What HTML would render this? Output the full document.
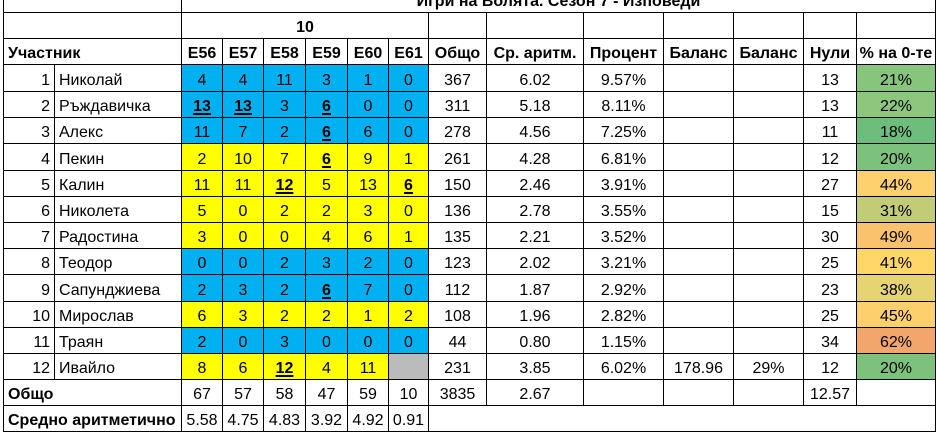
<!DOCTYPE html>
<html>
<head>
<meta charset="utf-8">
<style>
  html,body{margin:0;padding:0;background:#fff;}
  body{width:936px;height:432px;overflow:hidden;position:relative;
       font-family:"Liberation Sans",Arial,"Noto Sans CJK SC",sans-serif;font-size:16px;color:#000;}
  .g{position:absolute;left:3px;top:-14px;border-left:1px solid #000;border-top:1px solid #000;
     display:grid;
     grid-template-columns:51px 127px 41px 41px 42px 42px 41px 40px 58px 97px 80px 70px 70px 53px 79px;
     grid-template-rows:26px 26px 26px 27px 26px 26px 27px 26px 26px 26px 26px 27px 26px 26px 26px 26px 26px;}
  .g>div{box-sizing:border-box;border-right:1px solid #000;border-bottom:1px solid #000;
     display:flex;align-items:flex-end;justify-content:center;padding-bottom:1.5px;
     white-space:nowrap;overflow:hidden;line-height:18px;}
  .b{font-weight:bold;}
  .l{justify-content:flex-start !important;padding-left:4px;}
  .r{justify-content:flex-end !important;padding-right:4px;}
  .s2{grid-column:span 2;}
  .bl{background:#00B0F0;}
  .ye{background:#FFFF00;}
  .gr{background:#BBBBBB;}
  u{font-weight:bold;text-decoration:underline;text-decoration-thickness:2px;text-underline-offset:2px;}
</style>
</head>
<body>
<div class="g">
  <!-- title row -->
  <div class="s2"></div>
  <div class="b" style="grid-column:span 13;">Игри на Волята. Сезон 7 - Изповеди</div>
  <!-- row "10" -->
  <div class="s2"></div>
  <div class="b" style="grid-column:span 6;">10</div>
  <div></div><div></div><div></div><div></div><div></div><div></div><div></div>
  <!-- header -->
  <div class="s2 b l">Участник</div>
  <div class="b">E56</div><div class="b">E57</div><div class="b">E58</div><div class="b">E59</div><div class="b">E60</div><div class="b">E61</div>
  <div class="b">Общо</div><div class="b">Ср. аритм.</div><div class="b">Процент</div><div class="b">Баланс</div><div class="b">Баланс</div><div class="b">Нули</div><div class="b">% на 0-те</div>

  <!-- 1 -->
  <div class="r">1</div><div class="l">Николай</div>
  <div class="bl">4</div><div class="bl">4</div><div class="bl">11</div><div class="bl">3</div><div class="bl">1</div><div class="bl">0</div>
  <div>367</div><div>6.02</div><div>9.57%</div><div></div><div></div><div>13</div><div style="background:#87C57C">21%</div>
  <!-- 2 -->
  <div class="r">2</div><div class="l">Ръждавичка</div>
  <div class="bl"><u>13</u></div><div class="bl"><u>13</u></div><div class="bl">3</div><div class="bl"><u>6</u></div><div class="bl">0</div><div class="bl">0</div>
  <div>311</div><div>5.18</div><div>8.11%</div><div></div><div></div><div>13</div><div style="background:#8DC77D">22%</div>
  <!-- 3 -->
  <div class="r">3</div><div class="l">Алекс</div>
  <div class="bl">11</div><div class="bl">7</div><div class="bl">2</div><div class="bl"><u>6</u></div><div class="bl">6</div><div class="bl">0</div>
  <div>278</div><div>4.56</div><div>7.25%</div><div></div><div></div><div>11</div><div style="background:#6DBE7C">18%</div>
  <!-- 4 -->
  <div class="r">4</div><div class="l">Пекин</div>
  <div class="ye">2</div><div class="ye">10</div><div class="ye">7</div><div class="ye"><u>6</u></div><div class="ye">9</div><div class="ye">1</div>
  <div>261</div><div>4.28</div><div>6.81%</div><div></div><div></div><div>12</div><div style="background:#7DC27C">20%</div>
  <!-- 5 -->
  <div class="r">5</div><div class="l">Калин</div>
  <div class="ye">11</div><div class="ye">11</div><div class="ye"><u>12</u></div><div class="ye">5</div><div class="ye">13</div><div class="ye"><u>6</u></div>
  <div>150</div><div>2.46</div><div>3.91%</div><div></div><div></div><div>27</div><div style="background:#FDD26E">44%</div>
  <!-- 6 -->
  <div class="r">6</div><div class="l">Николета</div>
  <div class="ye">5</div><div class="ye">0</div><div class="ye">2</div><div class="ye">2</div><div class="ye">3</div><div class="ye">0</div>
  <div>136</div><div>2.78</div><div>3.55%</div><div></div><div></div><div>15</div><div style="background:#C2CB76">31%</div>
  <!-- 7 -->
  <div class="r">7</div><div class="l">Радостина</div>
  <div class="ye">3</div><div class="ye">0</div><div class="ye">0</div><div class="ye">4</div><div class="ye">6</div><div class="ye">1</div>
  <div>135</div><div>2.21</div><div>3.52%</div><div></div><div></div><div>30</div><div style="background:#FBC26D">49%</div>
  <!-- 8 -->
  <div class="r">8</div><div class="l">Теодор</div>
  <div class="bl">0</div><div class="bl">0</div><div class="bl">2</div><div class="bl">3</div><div class="bl">2</div><div class="bl">0</div>
  <div>123</div><div>2.02</div><div>3.21%</div><div></div><div></div><div>25</div><div style="background:#FFD767">41%</div>
  <!-- 9 -->
  <div class="r">9</div><div class="l">Сапунджиева</div>
  <div class="bl">2</div><div class="bl">3</div><div class="bl">2</div><div class="bl"><u>6</u></div><div class="bl">7</div><div class="bl">0</div>
  <div>112</div><div>1.87</div><div>2.92%</div><div></div><div></div><div>23</div><div style="background:#E6D371">38%</div>
  <!-- 10 -->
  <div class="r">10</div><div class="l">Мирослав</div>
  <div class="ye">6</div><div class="ye">3</div><div class="ye">2</div><div class="ye">2</div><div class="ye">1</div><div class="ye">2</div>
  <div>108</div><div>1.96</div><div>2.82%</div><div></div><div></div><div>25</div><div style="background:#FDD06D">45%</div>
  <!-- 11 -->
  <div class="r">11</div><div class="l">Траян</div>
  <div class="bl">2</div><div class="bl">0</div><div class="bl">3</div><div class="bl">0</div><div class="bl">0</div><div class="bl">0</div>
  <div>44</div><div>0.80</div><div>1.15%</div><div></div><div></div><div>34</div><div style="background:#F2A66C">62%</div>
  <!-- 12 -->
  <div class="r">12</div><div class="l">Ивайло</div>
  <div class="ye">8</div><div class="ye">6</div><div class="ye"><u>12</u></div><div class="ye">4</div><div class="ye">11</div><div class="gr"></div>
  <div>231</div><div>3.85</div><div>6.02%</div><div>178.96</div><div>29%</div><div>12</div><div style="background:#7DC27C">20%</div>

  <!-- Общо -->
  <div class="s2 b l">Общо</div>
  <div>67</div><div>57</div><div>58</div><div>47</div><div>59</div><div>10</div>
  <div>3835</div><div>2.67</div><div></div><div></div><div></div><div>12.57</div><div></div>
  <!-- Средно -->
  <div class="s2 b l">Средно аритметично</div>
  <div>5.58</div><div>4.75</div><div>4.83</div><div>3.92</div><div>4.92</div><div>0.91</div>
  <div style="grid-column:span 7;"></div>
</div>
</body>
</html>
